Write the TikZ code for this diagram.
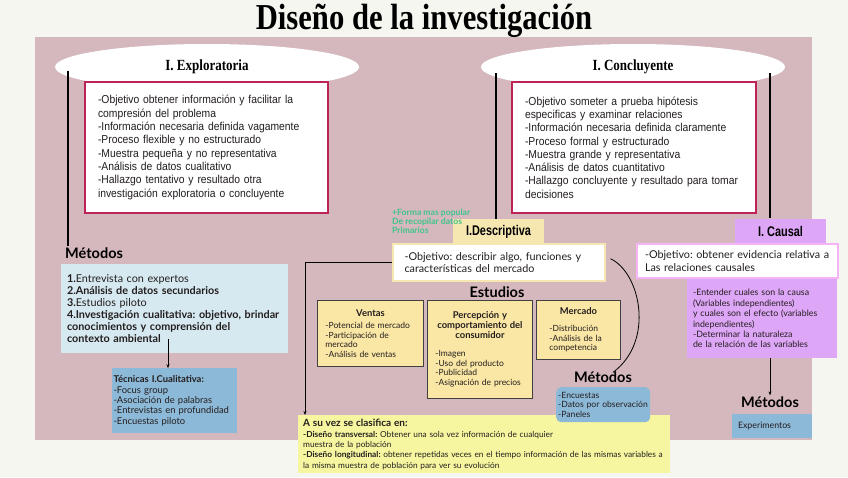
\documentclass[tikz,border=0pt]{standalone}
\usepackage{fontspec}
\setmainfont{Lato}
\newfontfamily\titlefont[FakeStretch=0.84]{Liberation Serif}
\newfontfamily\narrowsf[FakeStretch=0.9]{Liberation Sans}
\newfontfamily\condsf[FakeStretch=0.78]{Liberation Sans}
\usetikzlibrary{shapes.geometric, arrows.meta, positioning, calc}
\definecolor{bgC}{RGB}{246,246,241}
\definecolor{pnC}{RGB}{212,184,189}
\definecolor{crC}{RGB}{188, 36, 88}
\definecolor{lbC}{RGB}{214,233,241}
\definecolor{tbC}{RGB}{141,185,216}
\definecolor{ylC}{RGB}{246,231,176}
\definecolor{syC}{RGB}{250,231,165}
\definecolor{byC}{RGB}{246,246,160}
\definecolor{lcC}{RGB}{222,166,246}
\definecolor{pkC}{RGB}{245,180,245}
\definecolor{grC}{RGB}{ 64,196,140}
\definecolor{txC}{RGB}{ 35, 30, 30}
\tikzset{
  oval/.style  = {ellipse, fill=white, minimum width=304pt, minimum height=46pt,
                  inner sep=0pt, font=\titlefont\bfseries\fontsize{15.5}{18}\selectfont},
  wbox/.style  = {rectangle, draw=crC, fill=white, line width=1.6pt, align=left,
                  inner xsep=13pt, inner ysep=0pt, minimum height=131pt,
                  text=txC, font=\narrowsf\fontsize{11.5}{13.3}\selectfont},
  mhead/.style = {font=\bfseries\fontsize{14.5}{16}\selectfont, text=black, inner sep=1pt},
  lbox/.style  = {rectangle, fill=lbC, align=left, inner xsep=6pt, inner ysep=0pt,
                  text=txC, font=\fontsize{10.8}{12}\selectfont},
  tbox/.style  = {rectangle, fill=tbC, align=left, inner xsep=1.5pt, inner ysep=0pt,
                  text=txC, font=\fontsize{9.4}{10.3}\selectfont},
  dtit/.style  = {rectangle, fill=#1, minimum width=91pt, minimum height=26pt,
                  inner sep=0pt, font=\condsf\bfseries\fontsize{14}{16}\selectfont},
  dobj/.style  = {rectangle, draw=#1, fill=white, line width=2pt, align=left,
                  inner ysep=0pt, text=txC, font=\fontsize{10.8}{12.2}\selectfont},
  study/.style = {rectangle, draw=black!75, fill=syC, line width=0.9pt, align=left,
                  anchor=north west, inner xsep=8pt, inner ysep=0pt,
                  text=txC, font=\fontsize{8.5}{9.6}\selectfont},
  mbx/.style   = {rectangle, rounded corners=5pt, fill=tbC, align=left, anchor=north west,
                  inner xsep=2pt, inner ysep=0pt, text=txC, font=\fontsize{8.6}{9.6}\selectfont},
  note/.style  = {align=left, inner sep=0pt, text=grC,
                  font=\bfseries\fontsize{8.6}{8.8}\selectfont},
  vln/.style   = {line width=1.8pt, black},
  arr/.style   = {-{Stealth[length=4pt]}, line width=0.8pt, black},
}
\begin{document}
\frenchspacing
\begin{tikzpicture}[x=1pt, y=-1pt]
\useasboundingbox (0,0) rectangle (848,477);
\fill[bgC] (0,0) rectangle (848,477);
\fill[pnC] (35,37) rectangle (812,440);

% ---- Title ------------------------------------------------------------------
\node[font=\titlefont\bfseries\fontsize{36.5}{39}\selectfont] (ttl) at (424,21)
  {Diseño de la investigación};

% ---- Ovals ------------------------------------------------------------------
\node[oval] (expl) at (207,67) {I. Exploratoria};
\node[oval] (conc) at (633,67) {I. Concluyente};

\coordinate (exL) at (68,71);
\coordinate (coL) at (496,73);
\coordinate (coR) at (770,73);

% ---- Characteristics boxes ----------------------------------------------------
\node[wbox, text width=217pt] (exTx) at (206.5,147.5) {%
  -Objetivo obtener información y facilitar la\\
  compresión del problema\\
  -Información necesaria definida vagamente\\
  -Proceso flexible y no estructurado\\
  -Muestra pequeña y no representativa\\
  -Análisis de datos cualitativo\\
  -Hallazgo tentativo y resultado otra\\
  investigación exploratoria o concluyente};

\node[wbox, text width=218pt] (coTx) at (634,147.5) {%
  -Objetivo someter a prueba hipótesis\\
  especificas y examinar relaciones\\
  -Información necesaria definida claramente\\
  -Proceso formal y estructurado\\
  -Muestra grande y representativa\\
  -Análisis de datos cuantitativo\\
  -Hallazgo concluyente y resultado para tomar\\
  decisiones};

% ---- Exploratory methods ------------------------------------------------------
\node[mhead, anchor=west] (metA) at (64,253) {Métodos};

\node[lbox, minimum width=227pt, minimum height=89pt, text width=215pt]
  (mbox) at (174.5,308.5) {%
  {\bfseries 1.}Entrevista con expertos\\
  {\bfseries 2.Análisis de datos secundarios}\\
  {\bfseries 3.}Estudios piloto\\
  {\bfseries 4.Investigación cualitativa: objetivo, brindar\\
  conocimientos y comprensión del\\
  contexto ambiental}};

\node[tbox, minimum width=125pt, minimum height=65pt, text width=122pt,
      below=15pt of mbox] (tec) {%
  {\bfseries Técnicas I.Cualitativa:}\\
  -Focus group\\
  -Asociación de palabras\\
  -Entrevistas en profundidad\\
  -Encuestas piloto};

\coordinate (tA) at ([xshift=-6.5pt]tec.north);
\coordinate (tA0) at ($(mbox.south -| tA)+(0,-14)$);
\draw[arr] (tA0) -- (tA);
\draw[vln] (exL) -- (exL |- metA.north);

% ---- Descriptive --------------------------------------------------------------
\node[dtit=ylC] (desT) at (498.5,232) {I.Descriptiva};
\node[dobj=ylC, minimum width=212pt, minimum height=37pt, text width=188pt,
      inner xsep=12pt, below=-2pt of desT] (desO) {%
  -Objetivo: describir algo, funciones y\\
  características del mercado};
\draw[vln] (coL) -- (coL |- desT.north);

\node[note, anchor=north west] (nt) at (392,209) {%
  +Forma mas popular\\De recopilar datos\\Primarios};

\node[mhead] (est) at (497,292) {Estudios};

\node[study, minimum width=106pt, minimum height=66pt, text width=90pt]
  (ven) at (317,300) {%
  \vspace*{2pt}\centerline{\bfseries\fontsize{9.4}{10}\selectfont Ventas}\vspace{1pt}
  -Potencial de mercado\\
  -Participación de\\
  mercado\\
  -Análisis de ventas};

\node[study, minimum width=105pt, minimum height=98pt, text width=89pt]
  (per) at (427,300) {%
  {\centering\bfseries\fontsize{9.4}{10}\selectfont Percepción y\\
   comportamiento del\\ consumidor\par}\vspace{8pt}
  -Imagen\\
  -Uso del producto\\
  -Publicidad\\
  -Asignación de precios};

\node[study, minimum width=84pt, minimum height=59pt, text width=58pt,
      inner xsep=13pt] (mer) at (536,300) {%
  \centerline{\bfseries\fontsize{9.4}{10}\selectfont Mercado}\vspace{7pt}
  -Distribución\\
  -Análisis de la\\
  competencia};

% ---- Classification -----------------------------------------------------------
\node[rectangle, fill=byC, anchor=north west, align=left, inner xsep=5pt,
      inner ysep=0pt, minimum width=372pt, minimum height=58pt, text width=362pt,
      text=txC, font=\fontsize{8.3}{10.2}\selectfont] (clas) at (298,415) {%
  {\bfseries\fontsize{10}{11}\selectfont A su vez se clasifica en:}\\[1pt]
  {\bfseries -Diseño transversal:} Obtener una sola vez información de cualquier\\
  muestra de la población\\
  {\bfseries -Diseño longitudinal:} obtener repetidas veces en el tiempo información de las mismas variables a\\
  la misma muestra de población para ver su evolución};

\node[mhead] (metB) at (603,377) {Métodos};
\node[mbx, minimum width=94pt, minimum height=35pt, text width=90pt]
  (mbB) at (556,387) {%
  -Encuestas\\
  -Datos por observación\\
  -Paneles};

\draw[arr] (desO.west) -| ([xshift=7pt]clas.north west);
\draw[line width=0.8pt] ($(desO.east)+(5,-4)$) .. controls +(30,14) and +(42,-31)
  .. ($(metB.north)+(10,2)$);

% ---- Causal -------------------------------------------------------------------
\node[dtit=lcC] (ctit) at (780.5,231.5) {I. Causal};
\node[dobj=pkC, minimum width=201pt, minimum height=34pt, text width=185pt,
      inner xsep=8pt, fill=white] (cobj) at (737.5,261) {%
  -Objetivo: obtener evidencia relativa a\\
  Las relaciones causales};
\node[rectangle, fill=lcC, align=left, inner xsep=6pt, inner ysep=0pt,
      minimum width=150pt, minimum height=79pt, text width=138pt, text=txC,
      font=\fontsize{8.8}{10.4}\selectfont, anchor=north] (cbody) at (762,279) {%
  -Entender cuales son la causa\\
  (Variables independientes)\\
  y cuales son el efecto (variables\\
  independientes)\\
  -Determinar la naturaleza\\
  de la relación de las variables};
\draw[vln] (coR) -- (coR |- ctit.north);

\node[mhead] (metC) at (770,402) {Métodos};
\node[rectangle, fill=tbC, align=left, inner xsep=6pt, inner ysep=0pt,
      minimum width=80pt, minimum height=24pt, text width=68pt, text=txC,
      font=\fontsize{8.8}{10}\selectfont] (expt) at (772,426) {Experimentos};

\draw[arr] (cbody.south -| metC.north) -- (metC.north);

\end{tikzpicture}
\end{document}
